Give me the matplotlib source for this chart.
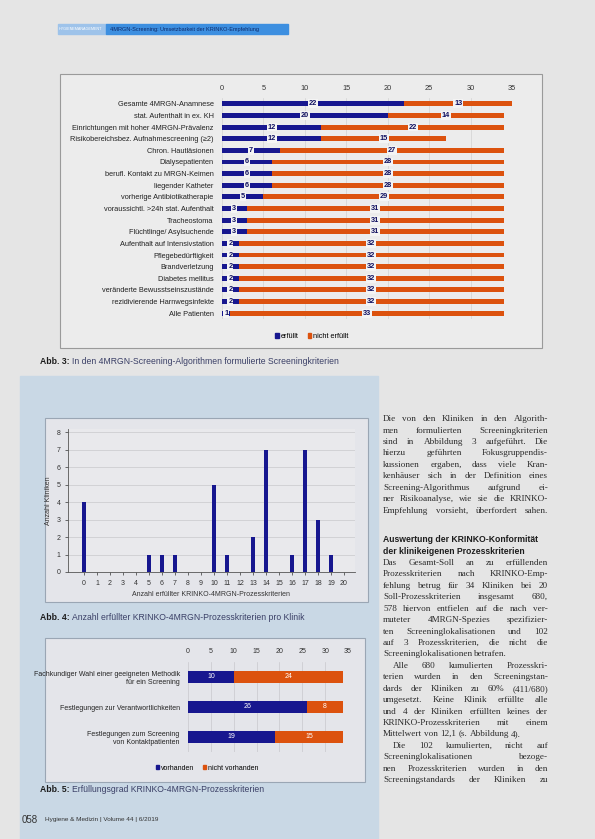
import matplotlib
matplotlib.use("Agg")
import matplotlib.pyplot as plt
from matplotlib.patches import Rectangle
import numpy as np

plt.rcParams['font.family'] = ['Liberation Sans', 'DejaVu Sans']

W, H = 595, 839

# ---------------- data ----------------
crit_labels = ["Gesamte 4MRGN-Anamnese", "stat. Aufenthalt in ex. KH",
               "Einrichtungen mit hoher 4MRGN-Prävalenz",
               "Risikobereichsbez. Aufnahmescreening (≥2)", "Chron. Hautläsionen",
               "Dialysepatienten", "berufl. Kontakt zu MRGN-Keimen", "liegender Katheter",
               "vorherige Antibiotikatherapie", "voraussichtl. >24h stat. Aufenthalt",
               "Tracheostoma", "Flüchtlinge/ Asylsuchende", "Aufenthalt auf Intensivstation",
               "Pflegebedürftigkeit", "Brandverletzung", "Diabetes mellitus",
               "veränderte Bewusstseinszustände", "rezidivierende Harnwegsinfekte",
               "Alle Patienten"]
crit_erfuellt = [22, 20, 12, 12, 7, 6, 6, 6, 5, 3, 3, 3, 2, 2, 2, 2, 2, 2, 1]
crit_nicht = [13, 14, 22, 15, 27, 28, 28, 28, 29, 31, 31, 31, 32, 32, 32, 32, 32, 32, 33]
top_ticks = [0, 5, 10, 15, 20, 25, 30, 35]

n_kriterien = list(range(21))
n_kliniken = [4, 0, 0, 0, 0, 1, 1, 1, 0, 0, 5, 1, 0, 2, 7, 0, 1, 7, 3, 1, 0]

proc_labels = ["Fachkundiger Wahl einer geeigneten Methodik\nfür ein Screening",
               "Festlegungen zur Verantwortlichkeiten",
               "Festlegungen zum Screening\nvon Kontaktpatienten"]
proc_vorhanden = [10, 26, 19]
proc_nicht = [24, 8, 15]

BLUE = "#17178f"
ORANGE = "#dc520e"
PAGE = "#e5e5e5"
LBLUE = "#c9d8e5"


def frac(x0, y0, x1, y1):
    return [x0 / W, 1 - y1 / H, (x1 - x0) / W, (y1 - y0) / H]


fig = plt.figure(figsize=(W / 100, H / 100), dpi=100)
fig.patch.set_facecolor(PAGE)
bg = fig.add_axes([0, 0, 1, 1])
bg.set_xlim(0, W)
bg.set_ylim(H, 0)
bg.axis('off')

# page decoration
bg.add_patch(Rectangle((20, 376), 358, 463, color=LBLUE, zorder=0))
bg.add_patch(Rectangle((58, 24), 48, 10, color="#9ec3ea", zorder=1))
bg.add_patch(Rectangle((106, 24), 182, 10, color="#3d8fe0", zorder=1))
bg.text(59, 29, "HYGIENEMANAGEMENT", fontsize=2.7, color="white", va='center')
bg.text(110, 29, "4MRGN-Screening: Umsetzbarkeit der KRINKO-Empfehlung", fontsize=4,
        color="#0d2a6a", va='center')

# chart panels
bg.add_patch(Rectangle((60, 74), 482, 274, facecolor="#ececec", edgecolor="#9a9a9a", lw=0.8, zorder=1))
bg.add_patch(Rectangle((45, 418), 323, 184, facecolor="#e4e5ea", edgecolor="#9aa6b4", lw=0.8, zorder=1))
bg.add_patch(Rectangle((45, 638), 320, 144, facecolor="#e4e5ea", edgecolor="#9aa6b4", lw=0.8, zorder=1))

# captions
def caption(x, y, bold, rest):
    t = bg.text(x, y, bold, fontsize=6.2, fontweight='bold', color="#1c1c1c", va='center')
    fig.canvas.draw()
    r = fig.canvas.get_renderer()
    bb = t.get_window_extent(r)
    x2 = x + bb.width + 2.5
    bg.text(x2, y, rest, fontsize=6.2, color="#3a3f66", va='center')

caption(40, 362, "Abb. 3:", "In den 4MRGN-Screening-Algorithmen formulierte Screeningkriterien")
caption(40, 617, "Abb. 4:", "Anzahl erfüllter KRINKO-4MRGN-Prozesskriterien pro Klinik")
caption(40, 790, "Abb. 5:", "Erfüllungsgrad KRINKO-4MRGN-Prozesskriterien")
bg.text(22, 820, "058", fontsize=7, color="#333333", va='center')
bg.text(45, 820, "Hygiene & Medizin | Volume 44 | 6/2019", fontsize=4.6, color="#333333", va='center')

# ---------------- Abb. 3 ----------------
ax1 = fig.add_axes(frac(222, 98, 512, 319))
ax1.set_facecolor("none")
y = np.arange(len(crit_labels))
ax1.barh(y, crit_erfuellt, height=0.42, color=BLUE, zorder=3)
ax1.barh(y, crit_nicht, left=crit_erfuellt, height=0.42, color=ORANGE, zorder=3)
for i in range(len(y)):
    e, n = crit_erfuellt[i], crit_nicht[i]
    ax1.text(e / 2, i, str(e), ha='center', va='center', fontsize=5.3, fontweight='bold',
             color="#101060", zorder=4,
             bbox=dict(boxstyle='square,pad=0.12', fc='#f4f4f4', ec='none'))
    ax1.text(e + n / 2, i, str(n), ha='center', va='center', fontsize=5.3, fontweight='bold',
             color="#101060", zorder=4,
             bbox=dict(boxstyle='square,pad=0.12', fc='#f4f4f4', ec='none'))
ax1.set_xlim(0, 35)
ax1.set_ylim(len(y) - 0.5, -0.5)
ax1.set_xticks(top_ticks)
ax1.xaxis.tick_top()
ax1.tick_params(axis='x', length=0, labelsize=5.3, colors="#333333", pad=4)
ax1.set_yticks(y)
ax1.set_yticklabels(crit_labels)
ax1.tick_params(axis='y', length=0, labelsize=5.3, colors="#222222", pad=6)
ax1.grid(axis='x', color="#d2d2d2", lw=0.5, zorder=0)
for s in ax1.spines.values():
    s.set_visible(False)
ax1.legend(handles=[Rectangle((0, 0), 1, 1, color=BLUE), Rectangle((0, 0), 1, 1, color=ORANGE)],
           labels=["erfüllt", "nicht erfüllt"], loc='center', bbox_to_anchor=(0.31, -0.08),
           ncol=2, frameon=False, fontsize=5.3, handlelength=0.5, handleheight=0.5,
           columnspacing=1.2, handletextpad=0.3)

# ---------------- Abb. 4 ----------------
ax2 = fig.add_axes(frac(68, 429, 355, 572))
ax2.set_facecolor("#e9e9ec")
ax2.bar(n_kriterien, n_kliniken, width=0.32, color=BLUE, zorder=3)
ax2.set_xlim(-1.23, 20.85)
ax2.set_ylim(0, 8.2)
ax2.set_xticks(n_kriterien)
ax2.set_yticks(range(9))
ax2.tick_params(labelsize=5, colors="#333333", length=2, width=0.5)
ax2.grid(axis='y', color="#c8c8cc", lw=0.5, zorder=0)
for s in ['top', 'right']:
    ax2.spines[s].set_visible(False)
for s in ['left', 'bottom']:
    ax2.spines[s].set_color("#555555")
    ax2.spines[s].set_linewidth(0.6)
ax2.set_xlabel("Anzahl erfüllter KRINKO-4MRGN-Prozesskriterien", fontsize=5, color="#333333", labelpad=3)
ax2.set_ylabel("Anzahl Kliniken", fontsize=5, color="#333333", labelpad=3)

# ---------------- Abb. 5 ----------------
ax3 = fig.add_axes(frac(188, 662, 348, 752))
ax3.set_facecolor("none")
yp = np.arange(len(proc_labels))
ax3.barh(yp, proc_vorhanden, height=0.42, color=BLUE, zorder=3)
ax3.barh(yp, proc_nicht, left=proc_vorhanden, height=0.42, color=ORANGE, zorder=3)
for i in range(len(yp)):
    v, n = proc_vorhanden[i], proc_nicht[i]
    ax3.text(v / 2, i, str(v), ha='center', va='center', fontsize=5, color='white', zorder=4)
    ax3.text(v + n / 2, i, str(n), ha='center', va='center', fontsize=5, color='white', zorder=4)
ax3.set_xlim(0, 35)
ax3.set_ylim(len(yp) - 0.5, -0.5)
ax3.set_xticks(top_ticks)
ax3.xaxis.tick_top()
ax3.tick_params(axis='x', length=0, labelsize=5, colors="#333333", pad=5)
ax3.set_yticks(yp)
ax3.set_yticklabels(proc_labels, fontsize=5, color="#222222", ha='right')
ax3.tick_params(axis='y', length=0, pad=6)
ax3.grid(axis='x', color="#c8c8cc", lw=0.5, zorder=0)
for s in ax3.spines.values():
    s.set_visible(False)
ax3.legend(handles=[Rectangle((0, 0), 1, 1, color=BLUE), Rectangle((0, 0), 1, 1, color=ORANGE)],
           labels=["vorhanden", "nicht vorhanden"], loc='center', bbox_to_anchor=(0.12, -0.18),
           ncol=2, frameon=False, fontsize=5, handlelength=0.5, handleheight=0.5,
           columnspacing=1.2, handletextpad=0.3)

# ---------------- body text ----------------
body = [
    (419, "Die von den Kliniken in den Algorith-", True, False),
    (431, "men formulierten Screeningkriterien", True, False),
    (442, "sind in Abbildung 3 aufgeführt. Die", True, False),
    (453, "hierzu geführten Fokusgruppendis-", True, False),
    (465, "kussionen ergaben, dass viele Kran-", True, False),
    (476, "kenhäuser sich in der Definition eines", True, False),
    (488, "Screening-Algorithmus aufgrund ei-", True, False),
    (499, "ner Risikoanalyse, wie sie die KRINKO-", True, False),
    (511, "Empfehlung vorsieht, überfordert sahen.", True, False),
    (563, "Das Gesamt-Soll an zu erfüllenden", True, False),
    (574, "Prozesskriterien nach KRINKO-Emp-", True, False),
    (586, "fehlung betrug für 34 Kliniken bei 20", True, False),
    (597, "Soll-Prozesskriterien insgesamt 680,", True, False),
    (609, "578 hiervon entfielen auf die nach ver-", True, False),
    (620, "muteter 4MRGN-Spezies spezifizier-", True, False),
    (632, "ten Screeninglokalisationen und 102", True, False),
    (643, "auf 3 Prozesskriterien, die nicht die", True, False),
    (654, "Screeninglokalisationen betrafen.", False, False),
    (666, "Alle 680 kumulierten Prozesskri-", True, True),
    (677, "terien wurden in den Screeningstan-", True, False),
    (689, "dards der Kliniken zu 60% (411/680)", True, False),
    (700, "umgesetzt. Keine Klinik erfüllte alle", True, False),
    (712, "und 4 der Kliniken erfüllten keines der", True, False),
    (723, "KRINKO-Prozesskriterien mit einem", True, False),
    (734, "Mittelwert von 12,1 (s. Abbildung 4).", False, False),
    (746, "Die 102 kumulierten, nicht auf", True, True),
    (757, "Screeninglokalisationen bezoge-", True, False),
    (769, "nen Prozesskriterien wurden in den", True, False),
    (780, "Screeningstandards der Kliniken zu", True, False),
]
X0, X1 = 383, 548
renderer = fig.canvas.get_renderer()
for yy, line, justify, indent in body:
    words = line.split(" ")
    xs = X0 + (10 if indent else 0)
    arts = [bg.text(xs, yy, w, fontsize=6.6, family=['Liberation Serif'], color="#2a2a2a",
                    va='center') for w in words]
    fig.canvas.draw()
    widths = [a.get_window_extent(renderer).width * W / fig.bbox.width for a in arts]
    space = 2.2
    if justify and len(words) > 1:
        space = (X1 - xs - sum(widths)) / (len(words) - 1)
    cx = xs
    for a, w in zip(arts, widths):
        a.set_x(cx)
        cx += w + space

bg.text(X0, 540, "Auswertung der KRINKO-Konformität", fontsize=6.2, fontweight='bold',
        color="#1c1c1c", va='center')
bg.text(X0, 551, "der klinikeigenen Prozesskriterien", fontsize=6.2, fontweight='bold',
        color="#1c1c1c", va='center')

fig.savefig("out.png", dpi=100, facecolor=fig.get_facecolor())
